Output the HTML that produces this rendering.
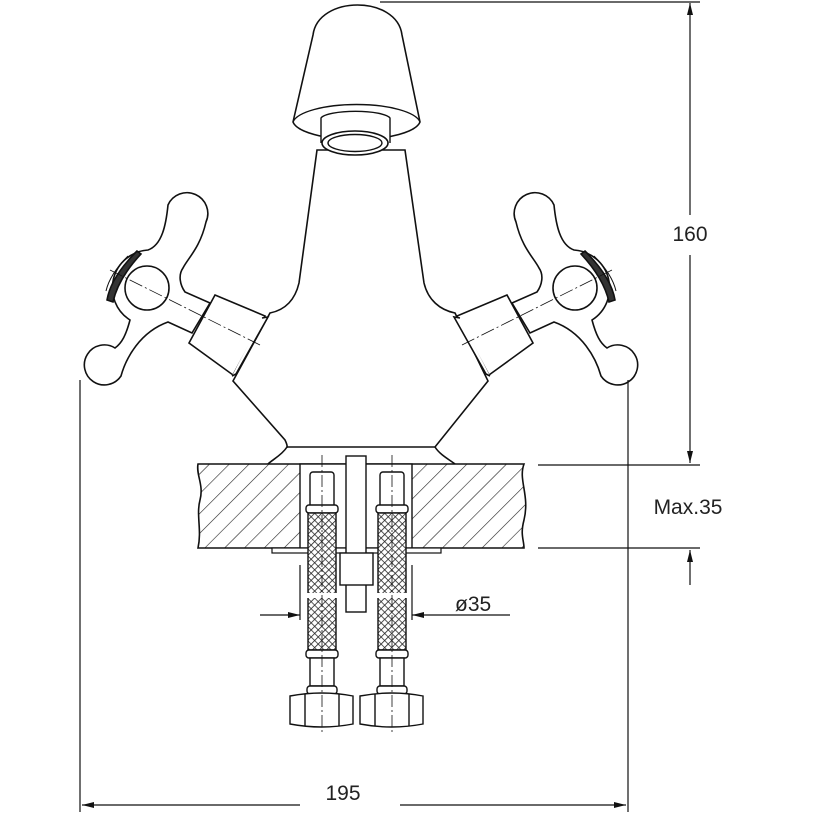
<!DOCTYPE html>
<html><head><meta charset="utf-8"><style>body{margin:0;background:#fff}svg{display:block}</style></head><body>
<svg width="815" height="815" viewBox="0 0 815 815" xmlns="http://www.w3.org/2000/svg" font-family="Liberation Sans, sans-serif">
<defs>
<pattern id="hatch" width="14" height="14" patternUnits="userSpaceOnUse" patternTransform="rotate(45)"><line x1="0" y1="0" x2="0" y2="14" stroke="#222" stroke-width="1.2"/></pattern>
<pattern id="mesh" width="5" height="5" patternUnits="userSpaceOnUse" patternTransform="rotate(45)"><rect width="5" height="5" fill="#fff"/><path d="M0 0H5M0 0V5" stroke="#222" stroke-width="1.6"/></pattern>
<marker id="ar" markerWidth="12" markerHeight="6" refX="12" refY="3" orient="auto" markerUnits="userSpaceOnUse"><path d="M0 0L12 3L0 6Z" fill="#111"/></marker>
<g id="handle" fill="#fff" stroke="#111" stroke-width="1.6">
<path d="M185 292 C180 285 178 275 183 268 C188 258 200 248 206 222 A20 20 0 1 0 168 205 C166 225 162 245 148 250 A38 38 0 0 0 130 320 C126 335 122 343 115 348 A20 20 0 1 0 121 376 C126 358 140 332 168 322 L192 333 L210 303 Z"/>
<circle cx="147" cy="288" r="22"/>
<path d="M137 251 C124 264 110 282 107 300 L113 302 C117 284 128 268 141 254 Z" fill="#333"/>
<path d="M128 256 C118 266 109 278 106 291" fill="none" stroke-width="1"/>
<path d="M215 295 L265 316 L233 375 L189 343 Z"/>
<path d="M262 318 L268 317 L236 374 L232 376"/>
<line x1="110" y1="270" x2="260" y2="345" stroke-width="0.8" stroke-dasharray="14 3 2 3"/>
</g>
</defs>
<!-- counter -->
<path d="M198 464 H524 C518 480 530 495 524 520 C520 535 524 540 524 548 H198 C202 530 196 515 200 500 C204 485 196 475 198 464 Z" fill="url(#hatch)" stroke="#111" stroke-width="1.6"/>
<rect x="300" y="464" width="112" height="84" fill="#fff" stroke="#111" stroke-width="1.4"/>
<rect x="272" y="548" width="169" height="5" fill="#fff" stroke="#111" stroke-width="1.2"/>
<!-- body -->
<path d="M317 150 L299 283 C295 300 285 310 270 313 L233 381 L285 440 C288 446 287 448 287 447 H435 L488 381 L455 313 C440 310 428 300 424 283 L405 150 Z" fill="#fff" stroke="#111" stroke-width="1.6"/>
<path d="M287 447 C282 455 272 460 268 464 M435 447 C440 455 450 460 455 464" fill="none" stroke="#111" stroke-width="1.6"/>
<use href="#handle"/>
<use href="#handle" transform="translate(722 0) scale(-1 1)"/>
<!-- spout -->
<path d="M313 35 C318 -5 397 -5 402 35 L420 122 A64 20 0 0 1 293 122 Z" fill="#fff" stroke="#111" stroke-width="1.6"/>
<path d="M293 122 A64 20 0 0 1 420 122" fill="none" stroke="#111" stroke-width="1.4"/>
<path d="M321 143 V118 A35 8 0 0 1 390 118 V143" fill="#fff" stroke="#111" stroke-width="1.4"/>
<ellipse cx="355" cy="143" rx="33" ry="12" fill="#fff" stroke="#111" stroke-width="1.6"/>
<ellipse cx="355" cy="143" rx="27" ry="8.5" fill="#fff" stroke="#111" stroke-width="1.4"/>
<!-- hoses -->
<g stroke="#111" stroke-width="1.4">
<rect x="346" y="456" width="20" height="156" fill="#fff"/>
<rect x="340" y="553" width="33" height="32" fill="#fff"/>
<g id="hose">
<rect x="310" y="472" width="24" height="36" rx="3" fill="#fff"/>
<rect x="306" y="505" width="32" height="8" rx="3" fill="#fff"/>
<rect x="308" y="513" width="28" height="137" fill="url(#mesh)"/>
<rect x="306" y="650" width="32" height="8" rx="3" fill="#fff"/>
<rect x="310" y="658" width="24" height="28" fill="#fff"/>
<rect x="307" y="686" width="30" height="8" rx="3" fill="#fff"/>
<path d="M290 696 Q322 690 353 696 V724 Q322 730 290 724 Z" fill="#fff"/>
<path d="M305 694 V726 M339 694 V726" fill="none"/>
<rect x="305" y="593" width="34" height="5" fill="#fff" stroke="none"/>
<line x1="322" y1="455" x2="322" y2="735" stroke-width="0.8" stroke-dasharray="12 3 2 3"/>
</g>
<use href="#hose" transform="translate(70 0)"/>
</g>
<!-- dimensions -->
<g stroke="#111" stroke-width="1.2" fill="none">
<line x1="380" y1="2" x2="700" y2="2"/>
<line x1="538" y1="465" x2="700" y2="465"/>
<line x1="538" y1="548" x2="700" y2="548"/>
<line x1="690" y1="215" x2="690" y2="3" marker-end="url(#ar)"/>
<line x1="690" y1="255" x2="690" y2="463" marker-end="url(#ar)"/>
<line x1="690" y1="585" x2="690" y2="550" marker-end="url(#ar)"/>
<line x1="80" y1="380" x2="80" y2="812"/>
<line x1="628" y1="380" x2="628" y2="812"/>
<line x1="300" y1="805" x2="82" y2="805" marker-end="url(#ar)"/>
<line x1="400" y1="805" x2="626" y2="805" marker-end="url(#ar)"/>
<line x1="260" y1="615" x2="300" y2="615" marker-end="url(#ar)"/>
<line x1="510" y1="615" x2="412" y2="615" marker-end="url(#ar)"/>
<line x1="300" y1="565" x2="300" y2="620"/>
<line x1="412" y1="565" x2="412" y2="620"/>
</g>
<g font-size="21" fill="#222">
<text x="690" y="241" text-anchor="middle">160</text>
<text x="688" y="514" text-anchor="middle">Max.35</text>
<text x="343" y="800" text-anchor="middle">195</text>
<text x="455" y="611">ø35</text>
</g>
</svg>
</body></html>
